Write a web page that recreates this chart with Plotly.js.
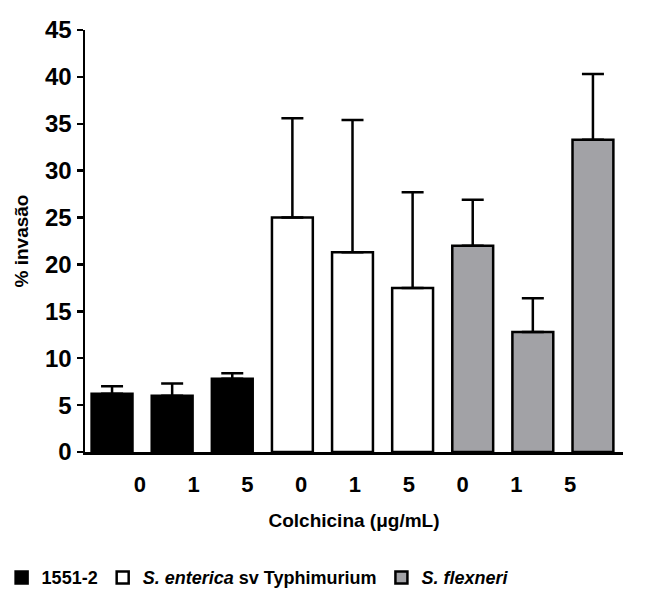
<!DOCTYPE html>
<html><head><meta charset="utf-8">
<script src="https://cdn.plot.ly/plotly-3.0.1.min.js"></script>
<style>body{margin:0;padding:0;background:#fff}#chart{width:666px;height:595px}</style>
</head><body><div id="chart"></div>
<script>
const doses = ['0','1','5'];
const groupNames = ['1551-2', '<i>S. enterica</i> sv Typhimurium', '<i>S. flexneri</i>'];
const groupColors = ['#000000', '#ffffff', '#a2a2a6'];
const means1551 = [6.2, 6.0, 7.8];
const err1551 = [0.8, 1.3, 0.6];
const meansTyph = [25.0, 21.3, 17.5];
const errTyph = [10.6, 14.1, 10.2];
const meansFlex = [22.0, 12.8, 33.3];
const errFlex = [4.9, 3.6, 7.0];
const yTicks = [0,5,10,15,20,25,30,35,40,45];

const means = [means1551, meansTyph, meansFlex];
const errs = [err1551, errTyph, errFlex];
const font = 'Liberation Sans, Arial, sans-serif';

const traces = means.map((m, g) => ({
  type: 'bar',
  x: doses.map((d, i) => g * doses.length + i),
  y: m,
  name: groupNames[g],
  width: 0.68,
  marker: {color: groupColors[g], line: {color: '#000', width: 2.5}},
  error_y: {type: 'data', symmetric: false, array: errs[g], arrayminus: errs[g].map(() => 0),
            color: '#000', thickness: 2.5, width: 11},
  hoverinfo: 'skip'
}));

// tick labels (offset row, as in the reference)
const tickLabels = [].concat(doses, doses, doses);
traces.push({
  type: 'scatter', mode: 'markers', x: tickLabels.map((t, i) => i), y: tickLabels.map(() => 0),
  xaxis: 'x2', marker: {opacity: 0}, showlegend: false, hoverinfo: 'skip'
});

const layout = {
  width: 666, height: 595,
  margin: {l: 85, r: 43, t: 30, b: 143, autoexpand: false},
  paper_bgcolor: '#fff', plot_bgcolor: '#fff',
  font: {family: font, color: '#000', size: 22},
  showlegend: true,
  barmode: 'overlay',
  xaxis: {
    range: [-0.45, 8.5], showticklabels: false, ticks: '', showgrid: false, zeroline: false,
    showline: true, linecolor: '#000', linewidth: 2.5, automargin: false,
    title: {text: '<b>Colchicina (μg/mL)</b>', font: {size: 19}, standoff: 60}
  },
  xaxis2: {
    overlaying: 'x', anchor: 'y', side: 'bottom', range: [-1.023, 8.986],
    tickmode: 'array', tickvals: tickLabels.map((t, i) => i), ticktext: tickLabels.map(t => '<b>' + t + '</b>'),
    ticks: 'outside', ticklen: 13, tickcolor: 'rgba(0,0,0,0)',
    showgrid: false, zeroline: false, showline: false, tickfont: {size: 22}, automargin: false
  },
  yaxis: {
    range: [0, 45], tickmode: 'array', tickvals: yTicks, ticktext: yTicks.map(t => '<b>' + t + '</b>'),
    ticks: 'outside', ticklen: 6, tickwidth: 2.5, tickcolor: '#000',
    showline: true, linecolor: '#000', linewidth: 2.5, showgrid: false, zeroline: false,
    tickfont: {size: 24}, automargin: false,
    title: {text: '<b>% invasão</b>', font: {size: 19}, standoff: 12}
  },
  legend: {
    orientation: 'h', x: -0.155, xanchor: 'left', y: -0.298, yanchor: 'middle',
    font: {size: 18, weight: 'bold'}, itemwidth: 30, traceorder: 'normal'
  }
};
Plotly.newPlot('chart', traces, layout, {staticPlot: true});
</script></body></html>
